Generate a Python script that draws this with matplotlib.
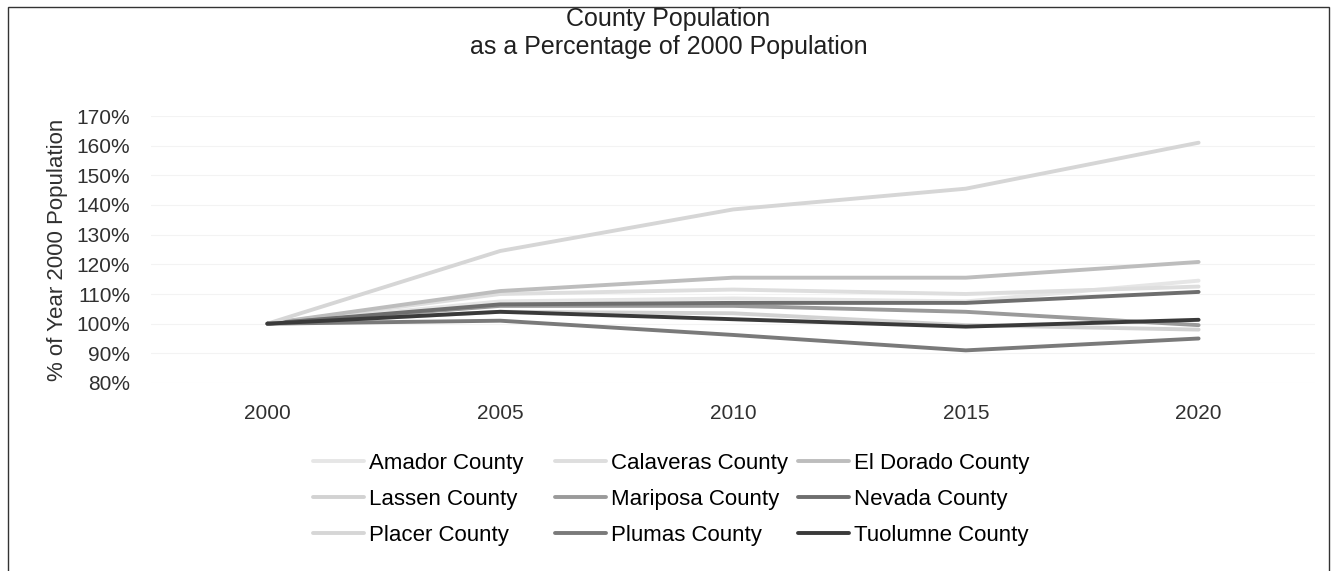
import numpy as np
import matplotlib.pyplot as plt
from matplotlib.patches import Rectangle
from matplotlib.ticker import FuncFormatter

plt.rcParams['font.family'] = ['Liberation Sans', 'DejaVu Sans']

years = ['2000', '2005', '2010', '2015', '2020']
amador = [100, 107.5, 108.5, 107.5, 114.5]
calaveras = [100, 110, 111.5, 110, 112.5]
el_dorado = [100, 111, 115.5, 115.5, 120.8]
lassen = [100, 104, 103.5, 99.5, 98]
mariposa = [100, 106, 106, 104, 99.5]
nevada = [100, 106.5, 107, 107, 110.7]
placer = [100, 124.5, 138.5, 145.5, 161]
plumas = [100, 101, 96.2, 91, 95]
tuolumne = [100, 104, 101.5, 99, 101.3]

names = ['Amador County', 'Calaveras County', 'El Dorado County',
         'Lassen County', 'Mariposa County', 'Nevada County',
         'Placer County', 'Plumas County', 'Tuolumne County']
series = [amador, calaveras, el_dorado, lassen, mariposa, nevada,
          placer, plumas, tuolumne]
colors = ['#e6e6e6', '#dedede', '#bdbdbd', '#d2d2d2', '#9a9a9a',
          '#6e6e6e', '#d6d6d6', '#7a7a7a', '#3a3a3a']


def main():
    fig = plt.figure(figsize=(13.37, 5.71), dpi=100)
    ax = fig.add_axes([151 / 1337, 1 - 383 / 571, 1164 / 1337, 267 / 571])

    x = np.arange(len(years))
    lines = []
    for vals, name, col in zip(series, names, colors):
        ln, = ax.plot(x, vals, color=col, lw=2.8, label=name,
                      solid_capstyle='round')
        lines.append(ln)

    ax.set_xlim(-0.5, 4.5)
    ax.set_ylim(80, 170)
    ax.set_yticks(np.arange(80, 171, 10))
    ax.yaxis.set_major_formatter(FuncFormatter(lambda v, p: '%d%%' % v))
    ax.set_xticks(x)
    ax.set_xticklabels(years)
    ax.tick_params(length=0, labelsize=15, colors='#303030')
    ax.tick_params(axis='y', pad=15)
    ax.tick_params(axis='x', pad=15)
    ax.grid(axis='y', color='#f3f3f3', lw=0.8)
    ax.set_axisbelow(True)
    for s in ax.spines.values():
        s.set_visible(False)
    ax.set_ylabel('% of Year 2000 Population', fontsize=16, color='#303030',
                  labelpad=6)

    fig.text(0.5, 1 - 7 / 571,
             'County Population\nas a Percentage of 2000 Population',
             ha='center', va='top', fontsize=18, linespacing=1.2,
             color='#202020')

    # legend laid out row-wise in three columns
    col_x = [313, 555, 798]
    for c in range(3):
        hs = [lines[c], lines[c + 3], lines[c + 6]]
        fig.legend(handles=hs, loc='upper left',
                   bbox_to_anchor=(col_x[c] / 1337, 1 - 453 / 571),
                   frameon=False, fontsize=16, borderpad=0,
                   borderaxespad=0, handlelength=2.3, handletextpad=0.22,
                   labelspacing=0.68)

    fig.patches.append(Rectangle((8 / 1337, -0.05), 1321 / 1337,
                                 1.05 - 7 / 571, transform=fig.transFigure,
                                 fill=False, edgecolor='#333333', lw=1.0))

    plt.savefig('out.png', dpi=100)


if __name__ == "__main__":
    main()
